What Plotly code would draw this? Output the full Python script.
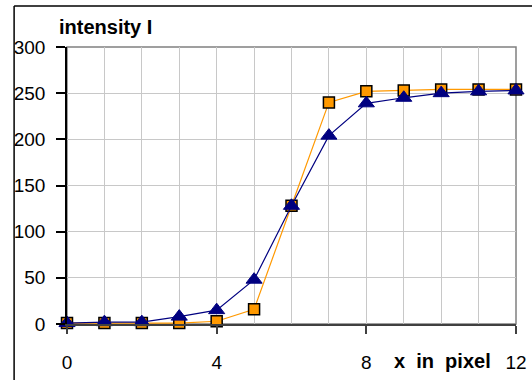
import plotly.graph_objects as go

x_pixel = [0, 1, 2, 3, 4, 5, 6, 7, 8, 9, 10, 11, 12]
intensity_orange = [1, 1, 1, 1, 3, 16, 128, 240, 252, 253, 254, 254, 254]
intensity_blue = [1, 2, 2, 8, 15, 48, 128, 204, 239, 245, 250, 252, 253]
x_ticks = [0, 4, 8, 12]
y_ticks = [0, 50, 100, 150, 200, 250, 300]
x_title = "x  in  pixel"
y_title = "intensity I"

FONT = "Liberation Sans, Arial, sans-serif"

fig = go.Figure()
fig.add_trace(go.Scatter(
    x=x_pixel, y=intensity_orange, mode="lines+markers",
    line=dict(color="#FF9900", width=1.2),
    marker=dict(symbol="square", size=11, color="#FF9900",
                line=dict(color="#000000", width=1.5)),
    cliponaxis=False, showlegend=False))
fig.add_trace(go.Scatter(
    x=x_pixel, y=intensity_blue, mode="lines+markers",
    line=dict(color="#000080", width=1.2),
    marker=dict(symbol="triangle-up", size=14, color="#000080",
                line=dict(color="#000080", width=1)),
    cliponaxis=False, showlegend=False))

fig.update_layout(
    width=532, height=380,
    margin=dict(l=67, r=16, t=47, b=56),
    paper_bgcolor="white", plot_bgcolor="white",
    font=dict(family=FONT, size=19, color="#000000"),
    xaxis=dict(range=[0, 12], tickvals=x_ticks, ticks="outside", ticklen=8,
               tickcolor="#404040", tickwidth=1.5, automargin=False,
               showgrid=True, gridcolor="#c8c8c8", gridwidth=1,
               minor=dict(dtick=1, showgrid=True, gridcolor="#c8c8c8", gridwidth=1),
               showline=True, linecolor="#404040", linewidth=2,
               zeroline=False, ticklabelstandoff=12,
               tickfont=dict(size=19)),
    yaxis=dict(range=[0, 300], tickvals=y_ticks, ticks="outside", ticklen=9,
               tickcolor="#000000", tickwidth=1.5, automargin=False,
               showgrid=True, gridcolor="#c8c8c8", gridwidth=1,
               showline=True, linecolor="#000000", linewidth=1.5,
               zeroline=False, ticklabelstandoff=7,
               tickfont=dict(size=19)),
    shapes=[
        dict(type="rect", xref="paper", yref="paper", x0=0, x1=1, y0=0, y1=1,
             line=dict(color="#808080", width=1.5), layer="below"),
        dict(type="line", xref="paper", yref="paper", x0=-0.1178, x1=1.1,
             y0=1.148, y1=1.148, line=dict(color="#000000", width=1.5)),
        dict(type="line", xref="paper", yref="paper", x0=-0.1178, x1=-0.1178,
             y0=-0.3, y1=1.148, line=dict(color="#000000", width=1.5)),
    ],
    annotations=[
        dict(text="<b>" + y_title + "</b>", xref="paper", yref="paper",
             x=(57 - 67) / 450, y=1 + (47 - 27) / 277, xanchor="left", yanchor="middle",
             showarrow=False, font=dict(size=20, family=FONT)),
        dict(text="<b>" + x_title + "</b>", xref="paper", yref="paper",
             x=(393 - 67) / 450, y=-(361 - 324) / 277, xanchor="left", yanchor="middle",
             showarrow=False, font=dict(size=20, family=FONT)),
    ],
)

fig.write_html("out.html", config={"displayModeBar": False},
               post_script="document.body.style.margin='0';")
